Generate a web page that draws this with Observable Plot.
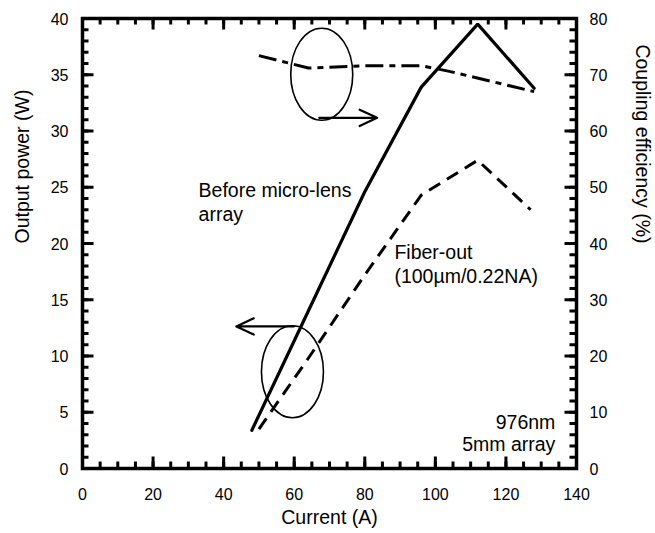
<!DOCTYPE html>
<html>
<head>
<meta charset="utf-8">
<script src="https://cdn.jsdelivr.net/npm/d3@7"></script>
<script src="https://cdn.jsdelivr.net/npm/@observablehq/plot@0.6"></script>
<style>
  html, body { margin: 0; padding: 0; background: #fff; }
  #chart svg { font-family: "Liberation Sans", Arial, Helvetica, sans-serif; display: block; }
</style>
</head>
<body>
<div id="chart"></div>
<script>
// ---- Data ----
// Before micro-lens array: output power (W) vs current (A)
const beforeCurrent = [48, 64, 80, 96, 112, 128];
const beforePower   = [3.4, 14.0, 24.6, 33.9, 39.5, 33.8];
// Fiber-out (100µm/0.22NA): output power (W)
const fiberCurrent = [50, 64, 80, 96, 112, 127];
const fiberPower   = [3.5, 9.8, 17.2, 24.3, 27.4, 23.0];
// Coupling efficiency (%) on right axis
const effCurrent = [50, 64, 80, 96, 104, 128];
const efficiency = [73.4, 71.2, 71.6, 71.6, 70.6, 67.0];

// Tick labels
const xTickLabels = [0, 20, 40, 60, 80, 100, 120, 140];
const yLeftTickLabels = [0, 5, 10, 15, 20, 25, 30, 35, 40];
const yRightTickLabels = [0, 10, 20, 30, 40, 50, 60, 70, 80];
const xMinorStep = 5, yMinorStep = 1;

// Annotations (data coordinates)
const ellipseX = [67.8, 59.5];
const ellipseY = [35.05, 8.6];
const arrowX1 = [67.1, 59.9], arrowX2 = [83.5, 43.6];
const arrowY = [31.17, 12.63];
const labelTexts = ["Before micro-lens\narray", "Fiber-out\n(100µm/0.22NA)"];
const labelX = [32.9, 88.4];
const labelY = [25.7, 20.15];
const noteText = "976nm\n5mm array";
const noteX = 134.0, noteY = 4.9;

// ---- Build tables ----
const before = beforeCurrent.map((x, i) => ({x, y: beforePower[i]}));
const fiber = fiberCurrent.map((x, i) => ({x, y: fiberPower[i]}));
const eff = effCurrent.map((x, i) => ({x, y: efficiency[i] / 2})); // right axis 0–80 ↔ left 0–40
const ellipses = ellipseX.map((x, i) => ({x, y: ellipseY[i]}));
const arrows = arrowX1.map((x1, i) => ({x1, x2: arrowX2[i], y: arrowY[i]}));
const labels = labelTexts.map((t, i) => ({t, x: labelX[i], y: labelY[i]}));

const xMinor = d3.range(0, 141, xMinorStep);
const yMinor = d3.range(0, 41, yMinorStep);

const W = 655, H = 533;
const mL = 82, mR = 79, mT = 18, mB = 65;
const innerW = W - mL - mR, innerH = H - mT - mB;
const majorLen = 11.5, minorLen = 6.5;
const tk = {stroke: "black", strokeWidth: 3};

const ellipseSymbol = (rx, ry) => ({
  draw(ctx) {
    const k = 0.5523;
    ctx.moveTo(rx, 0);
    ctx.bezierCurveTo(rx, k * ry, k * rx, ry, 0, ry);
    ctx.bezierCurveTo(-k * rx, ry, -rx, k * ry, -rx, 0);
    ctx.bezierCurveTo(-rx, -k * ry, -k * rx, -ry, 0, -ry);
    ctx.bezierCurveTo(k * rx, -ry, rx, -k * ry, rx, 0);
    ctx.closePath();
  }
});

const chart = Plot.plot({
  width: W,
  height: H,
  marginLeft: mL,
  marginRight: mR,
  marginTop: mT,
  marginBottom: mB,
  x: {domain: [0, 140]},
  y: {domain: [0, 40]},
  marks: [
    // inward ticks: bottom, top, left, right
    Plot.tickX(xMinor, {x: d => d, insetTop: innerH - minorLen, ...tk}),
    Plot.tickX(xMinor, {x: d => d, insetBottom: innerH - minorLen, ...tk}),
    Plot.tickX(xTickLabels, {x: d => d, insetTop: innerH - majorLen, ...tk}),
    Plot.tickX(xTickLabels, {x: d => d, insetBottom: innerH - majorLen, ...tk}),
    Plot.tickY(yMinor, {y: d => d, insetRight: innerW - minorLen, ...tk}),
    Plot.tickY(yMinor, {y: d => d, insetLeft: innerW - minorLen, ...tk}),
    Plot.tickY(yLeftTickLabels, {y: d => d, insetRight: innerW - majorLen, ...tk}),
    Plot.tickY(yLeftTickLabels, {y: d => d, insetLeft: innerW - majorLen, ...tk}),
    Plot.frame({stroke: "black", strokeWidth: 3.5}),

    // axis tick labels
    Plot.axisX({ticks: xTickLabels, tickSize: 0, tickPadding: 20, fontSize: 16, label: null, tickFormat: d => String(d)}),
    Plot.axisY({anchor: "left", ticks: yLeftTickLabels, tickSize: 0, tickPadding: 14, fontSize: 16, label: null, tickFormat: d => String(d), dy: 1}),
    Plot.axisY({anchor: "right", ticks: yRightTickLabels.map(v => v / 2), tickSize: 0, tickPadding: 13, fontSize: 16, label: null, tickFormat: d => String(d * 2), dy: 1}),

    // axis titles
    Plot.text(["Current (A)"], {frameAnchor: "bottom", dy: 55, fontSize: 19.5, text: d => d}),
    Plot.text(["Output power (W)"], {frameAnchor: "left", dx: -60, rotate: -90, fontSize: 19.5, text: d => d}),
    Plot.text(["Coupling efficiency (%)"], {frameAnchor: "right", dx: 66, rotate: 90, fontSize: 19.5, text: d => d}),

    // ellipses & arrows
    Plot.dot(ellipses, {x: "x", y: "y", symbol: ellipseSymbol(31, 46), r: 10, fill: "none", stroke: "black", strokeWidth: 1.6}),
    Plot.arrow(arrows, {x1: "x1", x2: "x2", y1: "y", y2: "y", stroke: "black", strokeWidth: 2.2, headLength: 14, headAngle: 50, insetStart: 0, insetEnd: 0}),

    // data lines
    Plot.line(eff, {x: "x", y: "y", stroke: "black", strokeWidth: 3, strokeDasharray: "18,6,6,6", strokeLinecap: "butt"}),
    Plot.line(fiber, {x: "x", y: "y", stroke: "black", strokeWidth: 3, strokeDasharray: "13,8", strokeLinecap: "butt"}),
    Plot.line(before, {x: "x", y: "y", stroke: "black", strokeWidth: 3.2, strokeLinejoin: "miter"}),

    // annotations
    Plot.text(labels, {x: "x", y: "y", text: "t", textAnchor: "start", lineAnchor: "top", lineHeight: 1.25, fontSize: 19.5, fill: "black"}),
    Plot.text([noteText], {x: () => noteX, y: () => noteY, text: d => d, textAnchor: "end", lineAnchor: "top", lineHeight: 1.13, fontSize: 19.5, fill: "black"})
  ]
});

chart.style.fontFamily = '"Liberation Sans", Arial, sans-serif';
document.getElementById("chart").appendChild(chart);
</script>
</body>
</html>
